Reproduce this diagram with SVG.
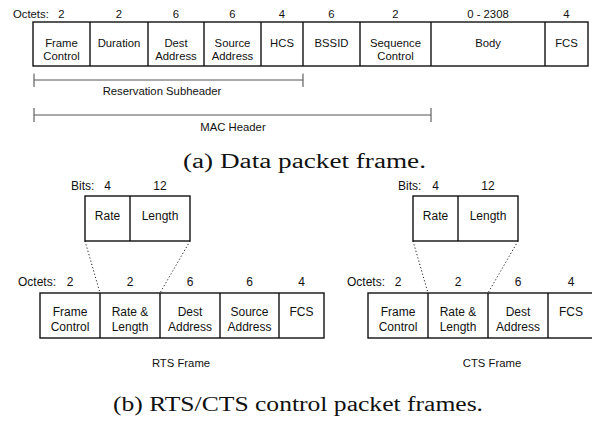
<svg xmlns="http://www.w3.org/2000/svg" width="592" height="422" viewBox="0 0 592 422">
<style>
.t{font-family:"Liberation Sans",Arial,sans-serif;font-size:11.3px;fill:#111;text-anchor:middle}
.b{font-family:"Liberation Sans",Arial,sans-serif;font-size:12px;fill:#111;text-anchor:middle}
.s{text-anchor:start}
.cap{font-family:"Liberation Serif","Times New Roman",serif;font-size:20px;fill:#111;text-anchor:middle}
.box{fill:#fff;stroke:#111;stroke-width:1.4}
.div{stroke:#111;stroke-width:1.4}
.dim{stroke:#555;stroke-width:1.1;fill:none}
.dot{stroke:#222;stroke-width:1;stroke-dasharray:1.2 2.2;fill:none}
</style>
<rect width="592" height="422" fill="#fff"/>

<g id="data-frame">
<text class="t s" x="13" y="17.5">Octets:</text>
<text class="t" x="61.5" y="17.5">2</text>
<text class="t" x="119" y="17.5">2</text>
<text class="t" x="176" y="17.5">6</text>
<text class="t" x="232.5" y="17.5">6</text>
<text class="t" x="282" y="17.5">4</text>
<text class="t" x="331.5" y="17.5">6</text>
<text class="t" x="395.5" y="17.5">2</text>
<text class="t" x="488" y="17.5">0 - 2308</text>
<text class="t" x="566.5" y="17.5">4</text>
<rect class="box" x="33" y="22" width="555" height="44"/>
<line class="div" x1="90" y1="22" x2="90" y2="66"/>
<line class="div" x1="148" y1="22" x2="148" y2="66"/>
<line class="div" x1="204" y1="22" x2="204" y2="66"/>
<line class="div" x1="261" y1="22" x2="261" y2="66"/>
<line class="div" x1="303" y1="22" x2="303" y2="66"/>
<line class="div" x1="360" y1="22" x2="360" y2="66"/>
<line class="div" x1="431" y1="22" x2="431" y2="66"/>
<line class="div" x1="545" y1="22" x2="545" y2="66"/>
<text class="t" x="61.5" y="47">Frame</text><text class="t" x="61.5" y="59.5">Control</text>
<text class="t" x="119" y="47">Duration</text>
<text class="t" x="176" y="47">Dest</text><text class="t" x="176" y="59.5">Address</text>
<text class="t" x="232.5" y="47">Source</text><text class="t" x="232.5" y="59.5">Address</text>
<text class="t" x="282" y="47">HCS</text>
<text class="t" x="331.5" y="47">BSSID</text>
<text class="t" x="395.5" y="47">Sequence</text><text class="t" x="395.5" y="59.5">Control</text>
<text class="t" x="488" y="47">Body</text>
<text class="t" x="566.5" y="47">FCS</text>
</g>

<g id="spans">
<path class="dim" d="M34,73.5V87M34,80H303M303,73.5V87"/>
<text class="t" x="162" y="95">Reservation Subheader</text>
<path class="dim" d="M34,108V122M34,115H431M431,108V122"/>
<text class="t" x="233" y="131">MAC Header</text>
</g>

<text class="cap" x="304.5" y="168" textLength="243" lengthAdjust="spacingAndGlyphs">(a) Data packet frame.</text>

<g id="rts-bits">
<text class="b s" x="71" y="190">Bits:</text>
<text class="b" x="107.5" y="190">4</text>
<text class="b" x="160" y="190">12</text>
<rect class="box" x="85" y="196" width="105" height="45"/>
<line class="div" x1="130" y1="196" x2="130" y2="241"/>
<text class="b" x="107.5" y="219.5">Rate</text>
<text class="b" x="160" y="219.5">Length</text>
</g>

<g id="cts-bits">
<text class="b s" x="398" y="190">Bits:</text>
<text class="b" x="435.5" y="190">4</text>
<text class="b" x="488" y="190">12</text>
<rect class="box" x="413" y="196" width="105" height="45"/>
<line class="div" x1="458" y1="196" x2="458" y2="241"/>
<text class="b" x="435.5" y="219.5">Rate</text>
<text class="b" x="488" y="219.5">Length</text>
</g>

<g id="connectors">
<line class="dot" x1="85" y1="241" x2="100" y2="293"/>
<line class="dot" x1="190" y1="241" x2="160" y2="293"/>
<line class="dot" x1="413" y1="241" x2="428" y2="293"/>
<line class="dot" x1="518" y1="241" x2="488" y2="293"/>
</g>

<g id="rts-frame">
<text class="b s" x="18" y="286">Octets:</text>
<text class="b" x="70" y="286">2</text>
<text class="b" x="130" y="286">2</text>
<text class="b" x="190" y="286">6</text>
<text class="b" x="249.5" y="286">6</text>
<text class="b" x="301.5" y="286">4</text>
<rect class="box" x="40" y="293" width="284" height="45"/>
<line class="div" x1="100" y1="293" x2="100" y2="338"/>
<line class="div" x1="160" y1="293" x2="160" y2="338"/>
<line class="div" x1="220" y1="293" x2="220" y2="338"/>
<line class="div" x1="279" y1="293" x2="279" y2="338"/>
<text class="b" x="70" y="316">Frame</text><text class="b" x="70" y="331">Control</text>
<text class="b" x="130" y="316">Rate &amp;</text><text class="b" x="130" y="331">Length</text>
<text class="b" x="190" y="316">Dest</text><text class="b" x="190" y="331">Address</text>
<text class="b" x="249.5" y="316">Source</text><text class="b" x="249.5" y="331">Address</text>
<text class="b" x="301.5" y="316">FCS</text>
<text class="t" x="181" y="367">RTS Frame</text>
</g>

<g id="cts-frame">
<text class="b s" x="347" y="286">Octets:</text>
<text class="b" x="398" y="286">2</text>
<text class="b" x="458" y="286">2</text>
<text class="b" x="518" y="286">6</text>
<text class="b" x="571" y="286">4</text>
<rect class="box" x="368" y="293" width="226" height="45"/>
<line class="div" x1="428" y1="293" x2="428" y2="338"/>
<line class="div" x1="488" y1="293" x2="488" y2="338"/>
<line class="div" x1="548" y1="293" x2="548" y2="338"/>
<text class="b" x="398" y="316">Frame</text><text class="b" x="398" y="331">Control</text>
<text class="b" x="458" y="316">Rate &amp;</text><text class="b" x="458" y="331">Length</text>
<text class="b" x="518" y="316">Dest</text><text class="b" x="518" y="331">Address</text>
<text class="b" x="571" y="316">FCS</text>
<text class="t" x="492" y="367">CTS Frame</text>
</g>

<text class="cap" x="298" y="411" textLength="370" lengthAdjust="spacingAndGlyphs">(b) RTS/CTS control packet frames.</text>
</svg>
